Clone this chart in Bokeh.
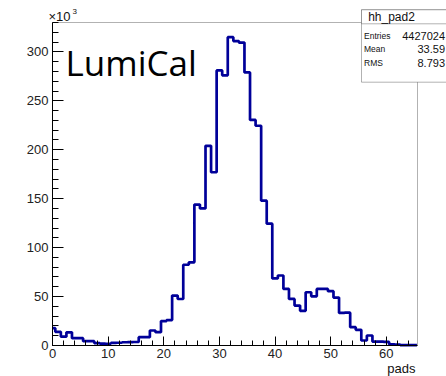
from bokeh.plotting import figure
from bokeh.models import Range1d, Label, BoxAnnotation, FixedTicker
from bokeh.embed import file_html
from bokeh.resources import INLINE

# ---- data (counts in units of 10^3, one value per pad bin) ----
pads = list(range(66))
counts_k = [17.7, 14.0, 9.0, 13.5, 7.5, 7.5, 4.4, 4.4, 2.5, 2.0,
            1.8, 2.6, 2.8, 3.3, 3.5, 3.6, 8.5, 8.5, 15.3, 13.6,
            25.0, 26.0, 51.0, 47.5, 82.5, 85.0, 144.0, 140.0, 204.0, 177.0,
            281.0, 276.0, 315.0, 311.0, 309.5, 279.0, 230.5, 224.5, 148.0, 124.5,
            68.5, 71.5, 57.8, 47.6, 40.8, 35.4, 54.4, 50.2, 57.8, 57.8,
            55.5, 49.0, 33.3, 33.5, 18.7, 16.0, 5.1, 10.2, 4.0, 4.0,
            3.7, 1.2, 1.0, 0.4, 0.3, 0.3]
x_ticks = [0, 10, 20, 30, 40, 50, 60]
y_ticks = [0, 50, 100, 150, 200, 250, 300]
x_min, x_max = 0.0, 65.6
y_min, y_max = 0.0, 330.0
x_title = "pads"
text_label = "LumiCal"
stat_title = "hh_pad2"
stat_names = ["Entries", "Mean", "RMS"]
stat_values = ["4427024", "33.59", "8.793"]

W, H = 446, 376
# axes frame position in canvas pixels
FL, FR, FT, FB = 52.0, 417.0, 22.0, 345.0
sx = (FR - FL) / (x_max - x_min)
sy = (FB - FT) / (y_max - y_min)
xr = Range1d(x_min - FL / sx, x_max + (W - FR) / sx)
yr = Range1d(y_min - (H - FB) / sy, y_max + FT / sy)

p = figure(width=W, height=H, output_backend="svg", toolbar_location=None,
           x_range=xr, y_range=yr, min_border=0, min_border_left=0,
           min_border_right=0, min_border_top=0, min_border_bottom=0)
p.background_fill_color = "white"
p.border_fill_color = "white"
p.xgrid.visible = False
p.ygrid.visible = False
p.outline_line_color = None

# frame box
p.add_layout(BoxAnnotation(left=x_min, right=x_max, bottom=y_min, top=y_max,
                           fill_alpha=0.0, line_color="black", line_width=1))

edges = [k - 0.5 for k in pads] + [pads[-1] + 0.5]
edges[0] = max(edges[0], x_min)
ys = counts_k + [counts_k[-1]]
p.step(edges, ys, mode="after", line_color="#000099", line_width=2.7)

FONT = "Liberation Sans"
for ax in (p.xaxis[0], p.yaxis[0]):
    ax.fixed_location = 0
    ax.axis_line_color = "black"
    ax.major_tick_line_color = "black"
    ax.minor_tick_line_color = "black"
    ax.major_tick_out = 0
    ax.minor_tick_out = 0
    ax.major_label_text_font = FONT
    ax.major_label_text_font_size = "13px"
    ax.major_label_text_color = "#222222"

p.xaxis.bounds = (x_min, x_max)
p.yaxis.bounds = (y_min, y_max)
p.xaxis.ticker = FixedTicker(ticks=x_ticks, minor_ticks=list(range(0, 66, 2)))
p.yaxis.ticker = FixedTicker(ticks=y_ticks, minor_ticks=list(range(0, 331, 10)))
p.xaxis.major_tick_in = 9
p.xaxis.minor_tick_in = 5
p.yaxis.major_tick_in = 11
p.yaxis.minor_tick_in = 6
p.xaxis.major_label_standoff = 3
p.yaxis.major_label_standoff = 4


def lab(text, x, y, size, align="left", baseline="middle", font=FONT, color="#111111"):
    # x, y: canvas pixels from the top-left corner
    l = Label(x=x, y=H - y, x_units="screen", y_units="screen", text=text,
              text_font=font, text_font_size=size, text_align=align,
              text_baseline=baseline, text_color=color)
    p.add_layout(l)
    return l


# axis title and exponent
lab(x_title, 415, 368, "13px", align="right")
lab("\u00d710", 48, 16, "13px")
lab("3", 72, 11, "8px")

# big text
lab(text_label, 65, 61.5, "35px", font="Open Sans", color="black")

# stats box
p.add_layout(BoxAnnotation(left=361, right=452, top=H - 9.3, bottom=H - 81.7,
                           left_units="screen", right_units="screen",
                           top_units="screen", bottom_units="screen",
                           fill_color="white", fill_alpha=1.0,
                           line_color="black", line_width=1))
p.add_layout(BoxAnnotation(left=361, right=452, top=H - 9.3, bottom=H - 23.3,
                           left_units="screen", right_units="screen",
                           top_units="screen", bottom_units="screen",
                           fill_color="white", fill_alpha=1.0,
                           line_color="black", line_width=1))
lab(stat_title, 391, 16, "12px", align="center")
for i, (nm, vl) in enumerate(zip(stat_names, stat_values)):
    yy = 35 + i * 13.5
    lab(nm, 363.5, yy, "8.5px")
    lab(vl, 444.5, yy, "11px", align="right")

open("out.html", "w").write(file_html(p, INLINE))
